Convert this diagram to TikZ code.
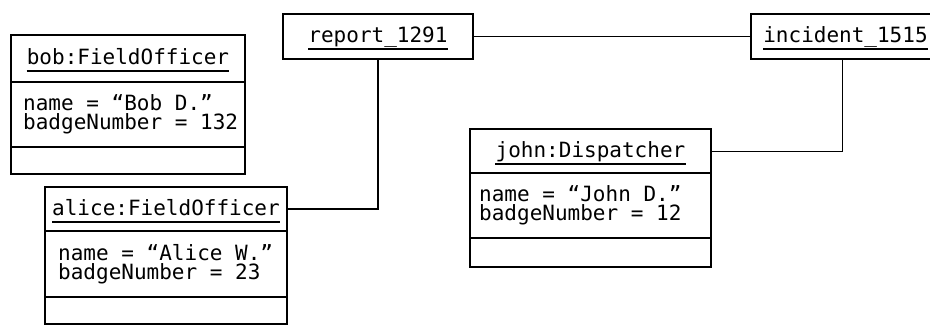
\documentclass[tikz,border=0pt]{standalone}
\usepackage{fontspec}
\newfontfamily\objfont{DejaVu Sans Mono}
\begin{document}
\begin{tikzpicture}[x=1pt,y=-1pt,
  comp/.style={draw, line width=1.8pt, anchor=north west, inner sep=0pt, outer sep=0pt},
  ttl/.style={font=\objfont\fontsize{21pt}{18pt}\selectfont, anchor=base, inner sep=0pt},
  attr/.style={font=\objfont\fontsize{21pt}{18.5pt}\selectfont, anchor=west, inner sep=0pt, align=left},
  uline/.style={line width=1.6pt},
  link/.style={line width=1.6pt},
  thinlink/.style={line width=1pt}]
\useasboundingbox (0,0) rectangle (930,325);
% bob
\node[comp, minimum width=234pt, minimum height=47pt] (bobT) at (11,35) {};
\node[comp, minimum width=234pt, minimum height=65pt] (bobA) at (11,82) {};
\node[comp, minimum width=234pt, minimum height=27pt] (bobO) at (11,147) {};
\node[ttl] (bobN) at (128,64) {bob:FieldOfficer};
\draw[uline] ([yshift=-7pt]bobN.base west) -- ([yshift=-7pt]bobN.base east);
\node[attr] (bobV) at (23,114.5) {name = “Bob D.”\\badgeNumber = 132};
% alice
\node[comp, minimum width=242pt, minimum height=44pt] (aliceT) at (45,187) {};
\node[comp, minimum width=242pt, minimum height=66pt] (aliceA) at (45,231) {};
\node[comp, minimum width=242pt, minimum height=27pt] (aliceO) at (45,297) {};
\node[ttl] (aliceN) at (166,215) {alice:FieldOfficer};
\draw[uline] ([yshift=-7pt]aliceN.base west) -- ([yshift=-7pt]aliceN.base east);
\node[attr] (aliceV) at (58,264) {name = “Alice W.”\\badgeNumber = 23};
% john
\node[comp, minimum width=241pt, minimum height=44pt] (johnT) at (470,129) {};
\node[comp, minimum width=241pt, minimum height=65pt] (johnA) at (470,173) {};
\node[comp, minimum width=241pt, minimum height=29pt] (johnO) at (470,238) {};
\node[ttl] (johnN) at (590.5,157) {john:Dispatcher};
\draw[uline] ([yshift=-7pt]johnN.base west) -- ([yshift=-7pt]johnN.base east);
\node[attr] (johnV) at (479,205.5) {name = “John D.”\\badgeNumber = 12};
% report
\node[comp, minimum width=190pt, minimum height=45pt] (repT) at (283,14) {};
\node[ttl] (repN) at (378,42) {report\_1291};
\draw[uline] ([yshift=-7pt]repN.base west) -- ([yshift=-7pt]repN.base east);
% incident
\node[comp, minimum width=189pt, minimum height=45pt] (incT) at (751,14) {};
\node[ttl] (incN) at (845.5,42) {incident\_1515};
\draw[uline] ([yshift=-7pt]incN.base west) -- ([yshift=-7pt]incN.base east);
% links
\draw[link] (repT) -- (incT);
\draw[link] (repT.south) |- (aliceT.east);
\draw[thinlink] ([xshift=-3pt]incT.south) |- (johnT.east);
\end{tikzpicture}
\end{document}
